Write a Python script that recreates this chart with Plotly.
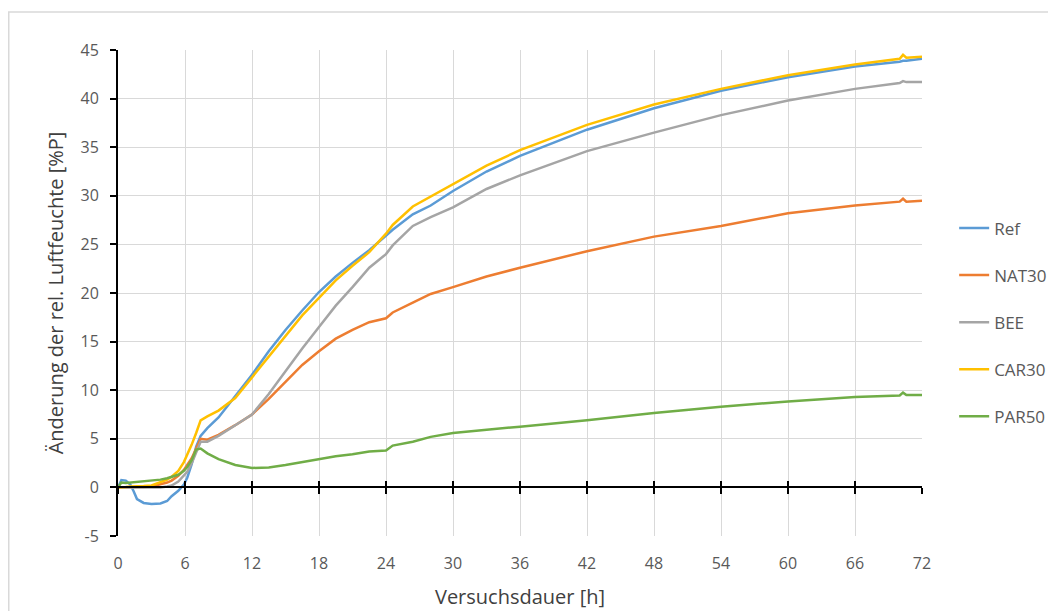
import plotly.graph_objects as go

# Versuchsdauer [h]
hours = [0, 0.3, 0.7, 1.1, 1.4, 1.7, 2.3, 3.0, 3.8, 4.4, 4.8, 5.4, 5.9, 6.2, 6.6, 7.0, 7.4, 8.0, 9.0,
         10.5, 12, 13.5, 15, 16.5, 18, 19.5, 21, 22.5, 24, 24.6, 26.4, 28, 30, 33, 36, 42, 48, 54, 60,
         66, 70, 70.3, 70.6, 72]

ref = [0, 0.75, 0.7, 0.3, -0.4, -1.2, -1.6, -1.7, -1.65, -1.4, -0.9, -0.35, 0.3, 1.0, 2.4, 4.2, 5.3,
       6.1, 7.2, 9.4, 11.6, 14.0, 16.2, 18.2, 20.1, 21.7, 23.1, 24.4, 25.9, 26.5, 28.1, 29.0, 30.5,
       32.5, 34.1, 36.8, 39.0, 40.8, 42.2, 43.3, 43.8, 43.9, 43.9, 44.1]

nat30 = [0, 0, 0, 0, 0, 0.05, 0.05, 0.1, 0.3, 0.5, 0.7, 1.2, 1.8, 2.3, 3.0, 4.0, 5.0, 4.9, 5.4, 6.4,
         7.5, 9.1, 10.9, 12.6, 14.0, 15.3, 16.2, 17.0, 17.4, 18.0, 19.0, 19.9, 20.6, 21.7, 22.6,
         24.3, 25.8, 26.9, 28.2, 29.0, 29.4, 29.7, 29.4, 29.5]

bee = [0, 0, 0, 0, 0, 0, 0, 0, 0, 0.1, 0.2, 0.6, 1.2, 1.6, 2.5, 3.6, 4.7, 4.7, 5.3, 6.4, 7.5, 9.6,
       12.0, 14.3, 16.5, 18.7, 20.6, 22.6, 24.0, 24.9, 26.9, 27.8, 28.8, 30.7, 32.1, 34.6, 36.5,
       38.3, 39.8, 41.0, 41.6, 41.8, 41.7, 41.7]

car30 = [0, 0.05, 0.05, 0.1, 0.1, 0.15, 0.15, 0.2, 0.5, 0.8, 1.1, 1.7, 2.6, 3.3, 4.4, 5.6, 6.9, 7.3,
         7.9, 9.2, 11.3, 13.4, 15.6, 17.7, 19.5, 21.3, 22.8, 24.2, 26.1, 27.0, 28.9, 29.9, 31.2,
         33.1, 34.7, 37.3, 39.4, 41.0, 42.4, 43.5, 44.1, 44.5, 44.2, 44.3]

par50 = [0, 0.5, 0.45, 0.5, 0.5, 0.55, 0.6, 0.7, 0.8, 0.95, 1.1, 1.3, 1.7, 2.1, 2.8, 3.9, 4.0, 3.5,
         2.9, 2.3, 2.0, 2.05, 2.3, 2.6, 2.9, 3.2, 3.4, 3.7, 3.8, 4.3, 4.7, 5.2, 5.6, 5.9, 6.25, 6.9,
         7.65, 8.3, 8.85, 9.3, 9.45, 9.75, 9.5, 9.5]

series_names = ["Ref", "NAT30", "BEE", "CAR30", "PAR50"]
series_values = [ref, nat30, bee, car30, par50]
series_colors = ["#5B9BD5", "#ED7D31", "#A5A5A5", "#FFC000", "#70AD47"]

x_ticks = list(range(0, 73, 6))
x_tick_labels = [str(v) for v in x_ticks]
y_ticks = list(range(-5, 46, 5))
y_tick_labels = ["-5", "0", "5", "10", "15", "20", "25", "30", "35", "40", "45"]

FONT = "Open Sans"
TXT = "#595959"

# plot area in figure pixels (page body adds an 8px offset)
L, T, W, H = 110, 42, 804, 486
FIG_W, FIG_H = 1056, 611

fig = go.Figure()
for name, vals, col in zip(series_names, series_values, series_colors):
    fig.add_trace(go.Scatter(x=hours, y=vals, name=name, mode="lines",
                             line=dict(color=col, width=2.5), legendgroup=name))

# empty traces so the zero-line axes (with crossing ticks) are rendered
for ax in ["x2", "x3"]:
    fig.add_trace(go.Scatter(x=[None], y=[None], xaxis=ax, yaxis="y", mode="lines",
                             showlegend=False, hoverinfo="skip"))

fig.update_layout(
    width=FIG_W, height=FIG_H,
    margin=dict(l=L, r=FIG_W - L - W, t=T, b=FIG_H - T - H, autoexpand=False),
    paper_bgcolor="white", plot_bgcolor="white",
    font=dict(family=FONT, color=TXT, size=16),
    showlegend=True,
    legend=dict(x=1.04, xanchor="left", y=0.67, yanchor="top",
                font=dict(family=FONT, size=17, color=TXT),
                tracegroupgap=22, bgcolor="rgba(0,0,0,0)"),
    xaxis=dict(range=[0, 72], tickvals=x_ticks, ticktext=x_tick_labels, ticks="",
               showline=False, automargin=False,
               showgrid=True, gridcolor="#d9d9d9", gridwidth=1, zeroline=False,
               ticklabelstandoff=16, tickfont=dict(size=16, color=TXT),
               title=dict(text="Versuchsdauer [h]", font=dict(size=20, color="#404040"), standoff=16)),
    xaxis2=dict(range=[0, 72], overlaying="x", anchor="free", position=0.1,
                tickvals=x_ticks, ticks="outside", ticklen=6, tickwidth=2, tickcolor="black",
                showline=True, linecolor="black", linewidth=2, showticklabels=False,
                showgrid=False, zeroline=False, automargin=False),
    xaxis3=dict(range=[0, 72], overlaying="x", anchor="free", position=0.1,
                tickvals=x_ticks, ticks="inside", ticklen=6, tickwidth=2, tickcolor="black",
                showline=False, showticklabels=False, showgrid=False, zeroline=False,
                automargin=False),
    yaxis=dict(range=[-5, 45], tickvals=y_ticks, ticktext=y_tick_labels, ticks="outside",
               ticklen=6, tickwidth=2,
               tickcolor="black", showline=True, linecolor="black", linewidth=2, automargin=False,
               showgrid=True, gridcolor="#d9d9d9", gridwidth=1, zeroline=False,
               ticklabelstandoff=8, tickfont=dict(size=16, color=TXT),
               title=dict(text="Änderung der rel. Luftfeuchte [%P]",
                          font=dict(size=20, color="#404040"), standoff=12)),
    shapes=[dict(type="rect", xref="paper", yref="paper",
                 x0=(0.75 - L) / W, x1=(FIG_W + 20 - L) / W,
                 y0=-(FIG_H + 20 - T - H) / H, y1=(T + H - 4) / H,
                 line=dict(color="#d9d9d9", width=1.5), layer="below")],
)

fig.write_html("out.html")
